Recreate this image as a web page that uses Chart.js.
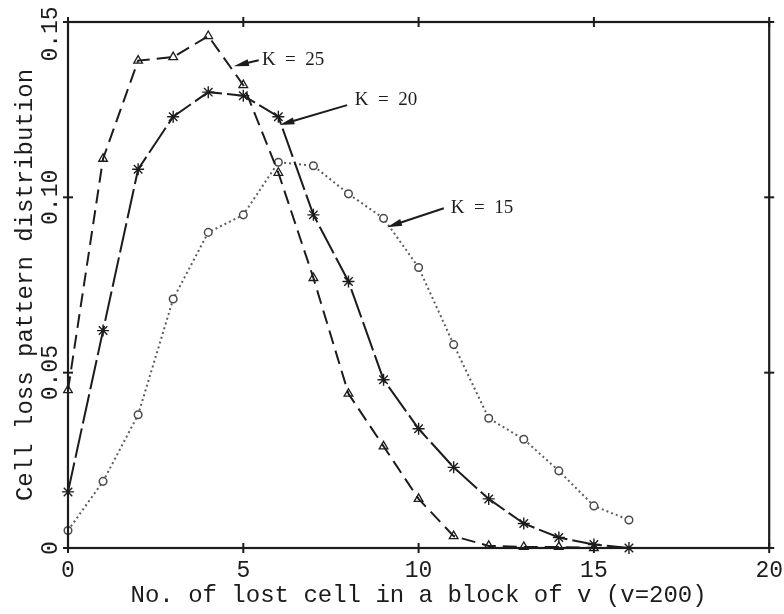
<!DOCTYPE html>
<html>
<head>
<meta charset="utf-8">
<script src="https://cdn.jsdelivr.net/npm/chart.js@4.4.1/dist/chart.umd.min.js"></script>
<style>
  html, body { margin: 0; padding: 0; background: #fff; }
  #wrap { width: 784px; height: 614px; }
</style>
</head>
<body>
<div id="wrap"><canvas id="chart"></canvas></div>
<script>
// values
const lostCells = [0, 1, 2, 3, 4, 5, 6, 7, 8, 9, 10, 11, 12, 13, 14, 15, 16];
const k25Values = [0.045, 0.111, 0.139, 0.140, 0.146, 0.132, 0.107, 0.077, 0.044, 0.029, 0.014, 0.0034, 0.0006, 0.0003, 0.0003, 0.0];
const k20Values = [0.016, 0.062, 0.108, 0.123, 0.130, 0.129, 0.123, 0.095, 0.076, 0.048, 0.034, 0.023, 0.014, 0.007, 0.003, 0.001, 0.0];
const k15Values = [0.005, 0.019, 0.038, 0.071, 0.090, 0.095, 0.110, 0.109, 0.101, 0.094, 0.080, 0.058, 0.037, 0.031, 0.022, 0.012, 0.008];
const xTickLabels = ['0', '5', '10', '15', '20'];
const yTickLabels = ['0', '0.05', '0.10', '0.15'];
const curveLabels = ['K  =  25', 'K  =  20', 'K  =  15'];

// where the arrows sit, in data units (tip, tail, text start)
const noteSpots = [
  { tip: [4.73, 0.1374], tail: [5.44, 0.1391], text: [5.53, 0.1391] },
  { tip: [6.03, 0.1206], tail: [7.96, 0.1263], text: [8.18, 0.1277] },
  { tip: [9.10, 0.0915], tail: [10.72, 0.0969], text: [10.92, 0.0969] }
];

const INK = '#1c1c1c';
const MONO = '"Liberation Mono", "DejaVu Sans Mono", monospace';

function toPoints(values) {
  return values.map((v, i) => ({ x: lostCells[i], y: v }));
}

function drawArrow(ctx, x1, y1, x2, y2) {
  const ang = Math.atan2(y2 - y1, x2 - x1);
  const head = 15, half = 3.5;
  ctx.beginPath();
  ctx.moveTo(x1, y1);
  ctx.lineTo(x2 - Math.cos(ang) * head * 0.6, y2 - Math.sin(ang) * head * 0.6);
  ctx.stroke();
  ctx.beginPath();
  ctx.moveTo(x2, y2);
  ctx.lineTo(x2 - head * Math.cos(ang) + half * Math.sin(ang), y2 - head * Math.sin(ang) - half * Math.cos(ang));
  ctx.lineTo(x2 - head * Math.cos(ang) - half * Math.sin(ang), y2 - head * Math.sin(ang) + half * Math.cos(ang));
  ctx.closePath();
  ctx.fill();
}

// box, crossing tick marks, rotated y labels and the K = .. notes
const framePlugin = {
  id: 'framePlugin',
  afterDraw(chart) {
    const { ctx, chartArea: a, scales } = chart;
    const xs = scales.x, ys = scales.y;
    ctx.save();
    ctx.strokeStyle = INK;
    ctx.fillStyle = INK;
    ctx.lineWidth = 2.2;
    ctx.strokeRect(a.left, a.top, a.right - a.left, a.bottom - a.top);

    ctx.lineWidth = 2;
    xs.ticks.forEach(t => {
      const px = xs.getPixelForValue(t.value);
      [a.top, a.bottom].forEach(py => {
        ctx.beginPath(); ctx.moveTo(px, py - 5); ctx.lineTo(px, py + 5); ctx.stroke();
      });
    });
    ys.ticks.forEach(t => {
      const py = ys.getPixelForValue(t.value);
      [a.left, a.right].forEach(px => {
        ctx.beginPath(); ctx.moveTo(px - 5, py); ctx.lineTo(px + 5, py); ctx.stroke();
      });
    });

    // y tick labels are written sideways in the original
    ctx.font = '23px ' + MONO;
    ctx.textAlign = 'center';
    ctx.textBaseline = 'middle';
    ys.ticks.forEach((t, i) => {
      const py = Math.max(ys.getPixelForValue(t.value), 34);
      ctx.save();
      ctx.translate(51, py);
      ctx.rotate(-Math.PI / 2);
      ctx.fillText(yTickLabels[i], 0, 0);
      ctx.restore();
    });

    ctx.lineWidth = 2;
    ctx.font = '19px "Liberation Serif", serif';
    ctx.textAlign = 'left';
    noteSpots.forEach((n, i) => {
      const tx = xs.getPixelForValue(n.tail[0]), ty = ys.getPixelForValue(n.tail[1]);
      const hx = xs.getPixelForValue(n.tip[0]), hy = ys.getPixelForValue(n.tip[1]);
      drawArrow(ctx, tx, ty, hx, hy);
      ctx.fillText(curveLabels[i], xs.getPixelForValue(n.text[0]), ys.getPixelForValue(n.text[1]));
    });
    ctx.restore();
  }
};

new Chart(document.getElementById('chart'), {
  type: 'scatter',
  data: {
    datasets: [
      {
        label: 'K = 25',
        data: toPoints(k25Values),
        showLine: true,
        borderColor: INK,
        borderWidth: 2,
        borderDash: [14, 7],
        pointStyle: 'triangle',
        pointRadius: 5,
        pointBorderWidth: 1.3,
        pointBorderColor: INK,
        pointBackgroundColor: 'rgba(0,0,0,0)',
        tension: 0,
        clip: false
      },
      {
        label: 'K = 20',
        data: toPoints(k20Values),
        showLine: true,
        borderColor: INK,
        borderWidth: 2,
        borderDash: [30, 5],
        pointStyle: 'star',
        pointRadius: 6,
        pointBorderWidth: 1.4,
        pointBorderColor: INK,
        pointBackgroundColor: 'rgba(0,0,0,0)',
        tension: 0,
        clip: false
      },
      {
        label: 'K = 15',
        data: toPoints(k15Values),
        showLine: true,
        borderColor: '#5e5e5e',
        borderWidth: 2,
        borderDash: [2, 3],
        pointStyle: 'circle',
        pointRadius: 3.8,
        pointBorderWidth: 1.5,
        pointBorderColor: '#4a4a4a',
        pointBackgroundColor: '#fff',
        tension: 0,
        clip: false
      }
    ]
  },
  options: {
    responsive: true,
    maintainAspectRatio: false,
    animation: false,
    layout: { padding: { top: 22, right: 14, left: 0, bottom: 0 } },
    plugins: {
      legend: { display: false },
      tooltip: { enabled: false }
    },
    scales: {
      x: {
        type: 'linear',
        min: 0,
        max: 20,
        grid: { display: false },
        border: { display: false },
        ticks: {
          stepSize: 5,
          padding: 1,
          color: INK,
          font: { family: MONO, size: 23 },
          callback: (v, i) => xTickLabels[i]
        },
        title: {
          display: true,
          text: 'No. of lost cell in a block of v (v=200)',
          color: INK,
          font: { family: MONO, size: 24 },
          padding: { top: 0, bottom: 4 }
        },
        afterFit: s => { s.height = 66; }
      },
      y: {
        type: 'linear',
        min: 0,
        max: 0.15,
        grid: { display: false },
        border: { display: false },
        ticks: { display: false, stepSize: 0.05 },
        title: {
          display: true,
          text: 'Cell loss pattern distribution',
          color: INK,
          font: { family: MONO, size: 24 },
          padding: { top: 11, bottom: 0 }
        },
        afterFit: s => { s.width = 68; }
      }
    }
  },
  plugins: [framePlugin]
});
</script>
</body>
</html>
